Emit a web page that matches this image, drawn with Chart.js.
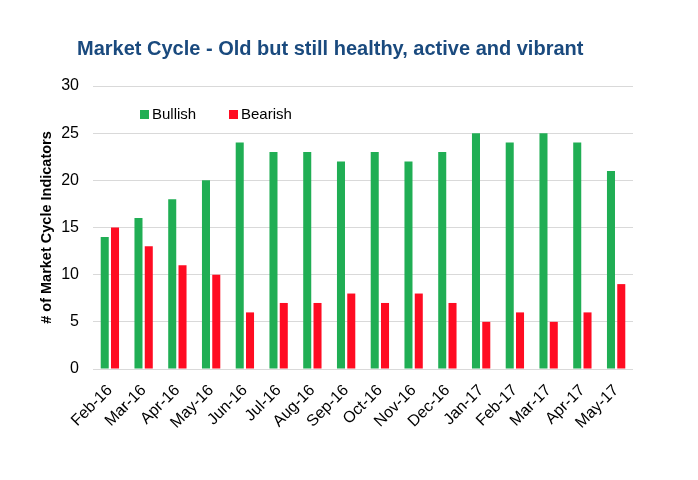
<!DOCTYPE html>
<html>
<head>
<meta charset="utf-8">
<script src="https://cdn.jsdelivr.net/npm/chart.js@4.4.1/dist/chart.umd.min.js"></script>
<style>
html,body{margin:0;padding:0;background:#fff;}
#wrap{width:698px;height:480px;position:relative;}
</style>
</head>
<body>
<div id="wrap"><canvas id="c" width="698" height="480"></canvas></div>
<script>
const chartTitle = "Market Cycle - Old but still healthy, active and vibrant";
const yAxisTitle = "# of Market Cycle Indicators";
const categories = ["Feb-16","Mar-16","Apr-16","May-16","Jun-16","Jul-16","Aug-16","Sep-16","Oct-16","Nov-16","Dec-16","Jan-17","Feb-17","Mar-17","Apr-17","May-17"];
const bullish = [14,16,18,20,24,23,23,22,23,22,23,25,24,25,24,21];
const bearish = [15,13,11,10,6,7,7,8,7,8,7,5,6,5,6,9];
const yTicks = [0,5,10,15,20,25,30];

const FONT = "'Liberation Sans', Arial, sans-serif";
const GREEN = "#20AE54";
const RED = "#FF0C22";

const overlay = {
  id: 'overlay',
  afterDraw(chart) {
    const ctx = chart.ctx;
    ctx.save();
    ctx.fillStyle = "#1A4A7E";
    ctx.font = "bold 20px " + FONT;
    ctx.textBaseline = "middle";
    ctx.textAlign = "left";
    ctx.fillText(chartTitle, 77, 49);
    // legend
    ctx.font = "15px " + FONT;
    ctx.textBaseline = "middle";
    const items = [[140, 0], [229, 1]];
    items.forEach(([x, i]) => {
      const ds = chart.data.datasets[i];
      ctx.fillStyle = ds.backgroundColor;
      ctx.fillRect(x, 110, 9, 9);
      ctx.fillStyle = "#000";
      ctx.fillText(ds.label, x + 12, 115);
    });
    ctx.restore();
  }
};

new Chart(document.getElementById('c'), {
  type: 'bar',
  data: {
    labels: categories,
    datasets: [
      { label: 'Bullish', data: bullish, backgroundColor: GREEN },
      { label: 'Bearish', data: bearish, backgroundColor: RED }
    ]
  },
  options: {
    responsive: false,
    animation: false,
    devicePixelRatio: 1,
    categoryPercentage: 0.61,
    barPercentage: 0.78,
    layout: { padding: { top: 86, right: 65, left: 0, bottom: 0 } },
    plugins: { legend: { display: false }, tooltip: { enabled: false }, title: { display: false } },
    scales: {
      x: {
        grid: { display: false },
        border: { display: false },
        ticks: { color: "#000", font: { family: FONT, size: 16 }, maxRotation: 45, minRotation: 45, padding: 4, autoSkip: false },
        afterFit: s => { s.height = 111; }
      },
      y: {
        min: 0, max: 30,
        afterBuildTicks: s => { s.ticks = yTicks.map(v => ({ value: v })); },
        grid: { color: "#D9D9D9", drawTicks: false, lineWidth: 1 },
        border: { display: false },
        ticks: { color: "#000", font: { family: FONT, size: 16 }, padding: 14 },
        title: { display: true, text: yAxisTitle, color: "#000", font: { family: FONT, size: 14.5, weight: 'bold' }, padding: { top: 38, bottom: 0 } },
        afterFit: s => { s.width = 93; }
      }
    }
  },
  plugins: [overlay]
});
</script>
</body>
</html>
